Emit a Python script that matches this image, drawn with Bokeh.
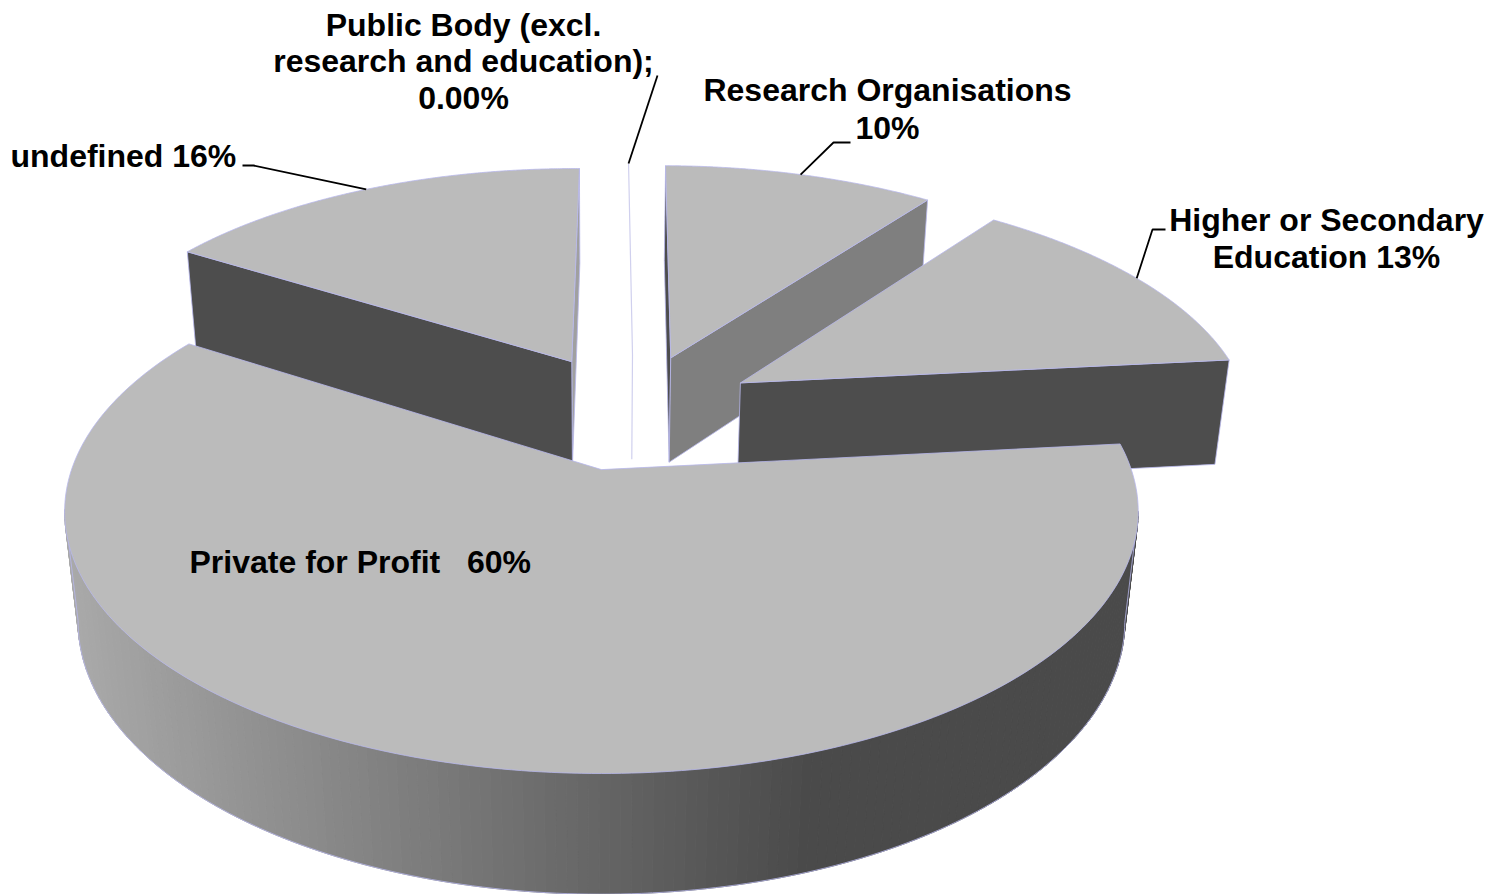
import numpy as np
from bokeh.plotting import figure
from bokeh.models import Range1d
from bokeh.core.properties import value
from bokeh.embed import file_html
from bokeh.resources import INLINE

# ---- data
categories = ["Public Body (excl. research and education)", "Research Organisations",
              "Higher or Secondary Education", "Private for Profit", "undefined"]
shares = [0.0, 10.0, 13.0, 60.0, 16.0]
label_rows = [
    ["Public Body (excl.", "research and education);", "0.00%"],
    ["Research Organisations", "10%"],
    ["Higher or Secondary", "Education 13%"],
    ["Private for Profit\u00a0\u00a0\u00a060%"],
    ["undefined 16%"],
]
label_x = [463, 887, 1326, 189, 10]
label_align = ["center", "center", "center", "left", "left"]
label_y = [[24, 60, 97], [89, 127], [219, 256], [561], [155]]
elbows = [[(657, 75)], [(833, 142), (850, 142)], [(1152, 229), (1165, 229)], [], [(253, 165), (242, 165)]]

# ---- projection of the 3D pie
W, H = 1498, 894
CX, CY = 601.5, 469.5      # screen position of the un-shifted origin
A, B, D = 530.0, 255.4, 112.0
K, M = 0.16, 0.025
EXPLODE = 0.245
CENTER = (0.056, 0.24)
ROTATION = 0.5
NUDGE = [0.006, 0.005, 0.007, -0.001, 0.0]
TOP, EDGE = "#BBBBBB", "#B8B8EC"
DARK, MID = "#4D4D4D", "#7F7F7F"


def proj(X, Y, Z=0.0):
    X, Y = np.asarray(X, float), np.asarray(Y, float)
    w = 1 + K * Y + M * Z
    return CX + A * X / w, CY + (-B * Y + D * Z) / w


total = sum(shares)
starts = np.cumsum([0.0] + shares[:-1]) / total * 360 + ROTATION
ends = np.cumsum(shares) / total * 360 + ROTATION
starts[0] = ends[0] = 0.0


def apex(i):
    mid = np.radians((starts[i] + ends[i]) / 2)
    return CENTER[0] + NUDGE[i] + EXPLODE * np.sin(mid), CENTER[1] + EXPLODE * np.cos(mid)


def rim(i, t):
    ax, ay = apex(i)
    r = np.radians(t)
    return ax + np.sin(r), ay + np.cos(r)


p = figure(width=W, height=H, x_range=Range1d(0, W), y_range=Range1d(H, 0),
           output_backend="svg", toolbar_location=None, min_border=0)
p.axis.visible = False
p.grid.visible = False
p.outline_line_color = None
p.background_fill_color = "white"
p.border_fill_color = "white"


def wall(i, t, color):
    ax, ay = apex(i)
    rx, ry = rim(i, t)
    x0, y0 = proj([ax, rx], [ay, ry], 0)
    x1, y1 = proj([rx, ax], [ry, ay], 1)
    p.patch(list(x0) + list(x1), list(y0) + list(y1), fill_color=color, line_color=EDGE, line_width=0.8)


def face(i):
    ax, ay = apex(i)
    t = np.linspace(starts[i], ends[i], 240)
    rx, ry = rim(i, t)
    x, y = proj(np.r_[ax, rx], np.r_[ay, ry], 0)
    p.patch(list(x), list(y), fill_color=TOP, line_color=EDGE, line_width=0.8)


# walls of the exploded slices, farthest first
wall(1, starts[1], DARK)
wall(1, ends[1], MID)
wall(2, ends[2], DARK)
wall(4, ends[4], "#A0A0A0")
wall(4, starts[4], DARK)
face(1)
face(2)
face(4)

# public body: a zero-width slice
ax, ay = apex(0)
rx, ry = rim(0, 0.0)
x0, y0 = proj([rx, ax], [ry, ay], 0)
x1, y1 = proj([ax], [ay], 1)
p.line(list(x0) + list(x1), list(y0) + list(y1), line_color="#D0D0EE", line_width=1.2)

# private for profit: curved wall (camera-facing part only), shaded along the screen
turn = np.degrees(np.arcsin(K))
t = np.arange(90 + turn, 270 - turn + 0.5, 1.0)
segs_x, segs_y, cols = [], [], []
for a, b in zip(t[:-1], t[1:]):
    rx, ry = rim(3, np.array([a, b]))
    x0, y0 = proj(rx, ry, 0)
    x1, y1 = proj(rx[::-1], ry[::-1], 1)
    g = int(np.clip(170 - (x0.mean() - 64) * 98 / 766, 74, 170))
    segs_x.append(list(x0) + list(x1))
    segs_y.append(list(y0) + list(y1))
    cols.append("#%02x%02x%02x" % (g, g, g))
p.patches(segs_x, segs_y, fill_color=cols, line_color=cols, line_width=1)
rx, ry = rim(3, t)
tx, ty = proj(rx, ry, 0)
bx, by = proj(rx, ry, 1)
p.line([tx[0]] + list(bx) + [tx[-1]], [ty[0]] + list(by) + [ty[-1]], line_color=EDGE, line_width=0.8)
face(3)

# leaders
for i, el in enumerate(elbows):
    if not el:
        continue
    mid = (starts[i] + ends[i]) / 2
    sx, sy = proj(*rim(i, mid), 0)
    p.line([float(sx)] + [e[0] for e in el], [float(sy)] + [e[1] for e in el],
           line_color="black", line_width=1.8)

# labels
for rows, x, al, ys in zip(label_rows, label_x, label_align, label_y):
    p.text([x] * len(rows), ys, text=rows, text_font=value("Liberation Sans"),
           text_font_style="bold", text_font_size="32px", text_color="black",
           text_align=al, text_baseline="middle")

open("out.html", "w").write(file_html(p, INLINE))
